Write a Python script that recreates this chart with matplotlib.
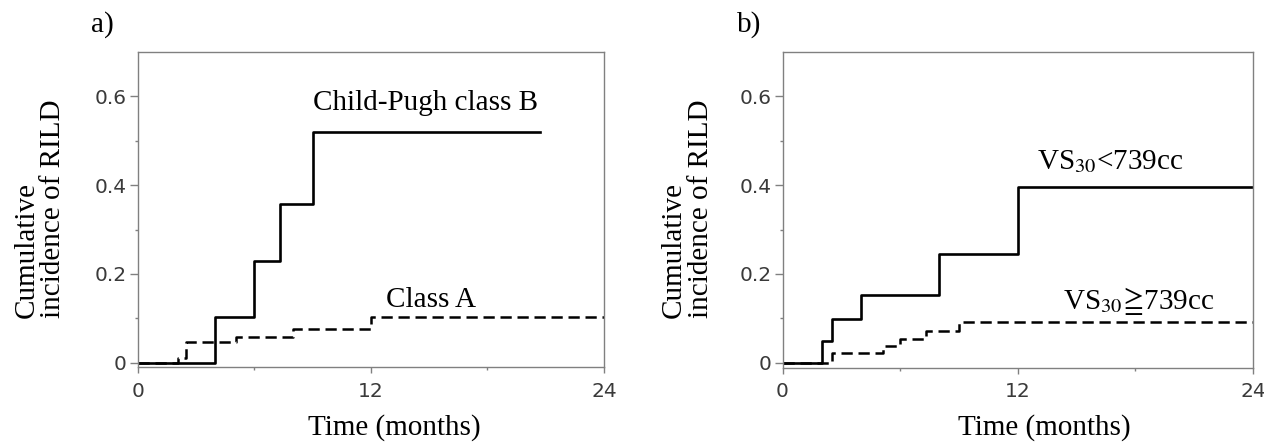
import matplotlib
matplotlib.use("Agg")
import matplotlib.pyplot as plt
from matplotlib.ticker import FixedLocator, FixedFormatter

plt.rcParams["font.family"] = ["Liberation Serif", "DejaVu Serif"]
plt.rcParams["mathtext.fontset"] = "stix"

# ---------- data ----------
# a) Child-Pugh class
cpb_t = [0, 4.0, 6.0, 7.33, 9.0, 20.7]
cpb_y = [0, 0.102, 0.229, 0.358, 0.519, 0.519]
cpa_t = [0, 2.07, 2.5, 5.05, 8.0, 12.0, 24]
cpa_y = [0, 0.0105, 0.047, 0.058, 0.075, 0.104, 0.104]

# b) VS30
vs_lo_t = [0, 2.0, 2.5, 4.0, 8.0, 12.0, 24]
vs_lo_y = [0, 0.049, 0.099, 0.152, 0.246, 0.396, 0.396]
vs_hi_t = [0, 2.5, 5.1, 6.0, 7.3, 9.0, 24]
vs_hi_y = [0, 0.023, 0.039, 0.054, 0.072, 0.092, 0.092]

xticks = [0, 12, 24]
xminor = [6, 18]
yticks = [0, 0.2, 0.4, 0.6]
ytick_labels = ["0", "0.2", "0.4", "0.6"]
yminor = [0.1, 0.3, 0.5]

SPINE = "#808080"
FS = 21

fig = plt.figure(figsize=(12.64, 4.43), dpi=100)
ax_a = fig.add_axes([0.1089, 0.1709, 0.3689, 0.7117])
ax_b = fig.add_axes([0.6191, 0.1704, 0.3722, 0.7129])


def style(ax, xlab_x):
    ax.set_xlim(0, 24)
    ax.set_ylim(-0.0104, 0.70)
    ax.xaxis.set_major_locator(FixedLocator(xticks))
    ax.xaxis.set_minor_locator(FixedLocator(xminor))
    ax.yaxis.set_major_locator(FixedLocator(yticks))
    ax.yaxis.set_major_formatter(FixedFormatter(ytick_labels))
    ax.yaxis.set_minor_locator(FixedLocator(yminor))
    for s in ax.spines.values():
        s.set_color(SPINE)
        s.set_linewidth(1.0)
    ax.tick_params(axis="both", which="both", direction="out", color=SPINE,
                   width=1.0, labelcolor="#3a3a3a")
    ax.tick_params(axis="x", which="major", length=4.5, pad=6)
    ax.tick_params(axis="y", which="major", length=6, pad=2)
    ax.tick_params(axis="both", which="minor", length=2.5)
    for lab in ax.get_xticklabels() + ax.get_yticklabels():
        lab.set_fontfamily("DejaVu Sans")
        lab.set_fontsize(14.5)
    ax.text(xlab_x, -0.214, "Time (months)", transform=ax.transAxes,
            ha="center", va="baseline", fontsize=FS)


style(ax_a, 0.55)
style(ax_b, 0.556)

# panel a
ax_a.step(cpb_t, cpb_y, where="post", color="black", lw=1.9)
ax_a.step(cpa_t, cpa_y, where="post", color="black", lw=1.8, dashes=(4.5, 2.3))
ax_a.text(9.0, 0.57, "Child-Pugh class B", fontsize=FS, va="baseline")
ax_a.text(12.8, 0.126, "Class A", fontsize=FS, va="baseline")
ax_a.text(-0.2095, 0.156, "Cumulative\nincidence of RILD", transform=ax_a.transAxes,
          rotation=90, ha="center", va="bottom", multialignment="left",
          fontsize=FS, linespacing=1.05)

# panel b
ax_b.step(vs_lo_t, vs_lo_y, where="post", color="black", lw=1.9)
ax_b.step(vs_hi_t, vs_hi_y, where="post", color="black", lw=1.8, dashes=(4.5, 2.3))
ax_b.text(13.0, 0.437, r"VS$_{30}$<739cc", fontsize=FS, va="baseline")
ax_b.text(14.3, 0.122, r"VS$_{30}\!\geqq\!$739cc", fontsize=FS, va="baseline")
ax_b.text(-0.203, 0.157, "Cumulative\nincidence of RILD", transform=ax_b.transAxes,
          rotation=90, ha="center", va="bottom", multialignment="left",
          fontsize=FS, linespacing=1.05)

fig.text(0.072, 0.944, "a)", fontsize=FS, va="center", ha="left")
fig.text(0.583, 0.944, "b)", fontsize=FS, va="center", ha="left")

fig.savefig("out.png", dpi=100, facecolor="white")
